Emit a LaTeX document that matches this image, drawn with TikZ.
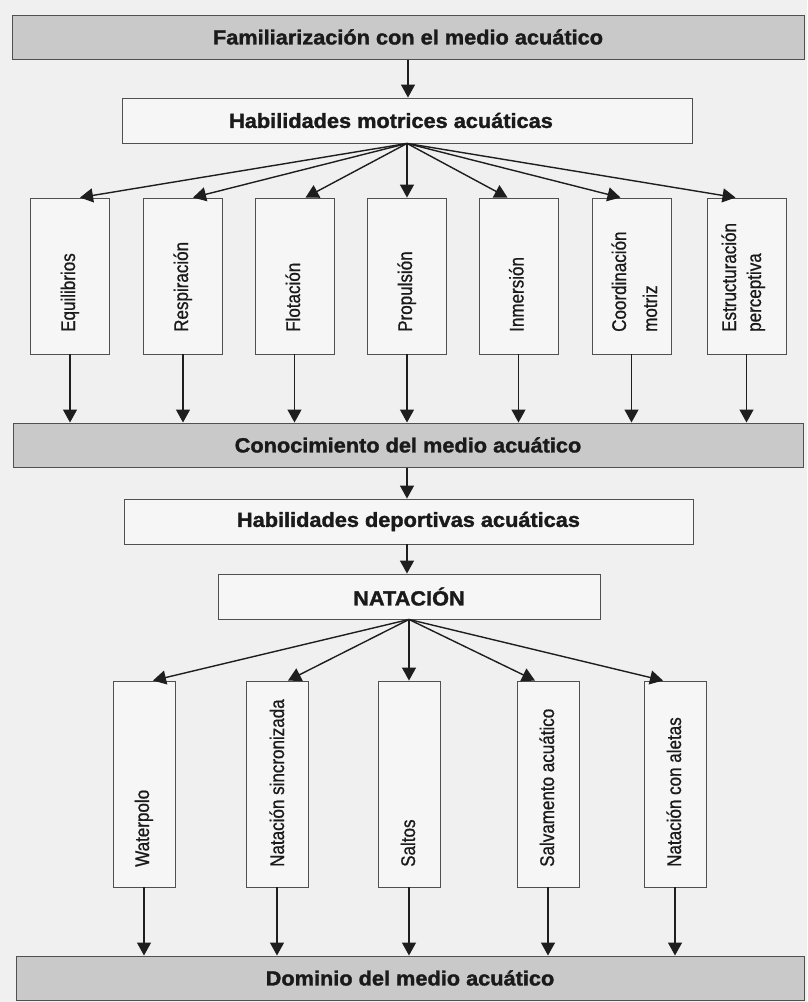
\documentclass[tikz,border=0pt]{standalone}
\usepackage{fontspec}
\setmainfont{Liberation Sans}
\newfontfamily\headfont[FakeStretch=1.06,FakeBold=1.5]{Liberation Sans}
\newfontfamily\labfont[FakeStretch=0.86,FakeBold=0.8]{Liberation Sans}
\usetikzlibrary{arrows.meta}
\definecolor{bgc}{HTML}{F0F0F0}
\definecolor{boxc}{HTML}{F6F6F6}
\definecolor{barc}{HTML}{C9C9C9}
\definecolor{bordc}{HTML}{505050}
\definecolor{arrc}{HTML}{1E1E1E}
\definecolor{txtc}{HTML}{1A1A1A}
\tikzset{
  bar/.style={draw=bordc, fill=barc, line width=1pt, minimum height=44pt, inner sep=0pt,
    text=txtc, font=\headfont\bfseries\fontsize{20.5}{24}\selectfont},
  hbox/.style={draw=bordc, fill=boxc, line width=0.9pt, minimum height=45pt, inner sep=0pt,
    text=txtc, font=\headfont\bfseries\fontsize{20.5}{24}\selectfont},
  vbox/.style={draw=bordc, fill=boxc, line width=0.9pt, inner sep=0pt},
  vboxA/.style={vbox, minimum width=79pt, minimum height=156pt},
  vboxB/.style={vbox, minimum width=62pt, minimum height=206pt},
  vlab/.style={rotate=90, anchor=base west, inner sep=0pt, text=txtc,
    font=\labfont\fontsize{19.8}{22}\selectfont},
  arr/.style={draw=arrc, line width=1.4pt, -{Triangle[length=13pt,width=14pt]}},
}
\begin{document}
\begin{tikzpicture}[x=1pt,y=-1pt]
\fill[bgc] (0,0) rectangle (807,1002);
\useasboundingbox (0,0) rectangle (807,1002);

% bars and horizontal boxes
\node[bar, minimum width=792pt] (fam) at (408,37) {Familiarización con el medio acuático};
\node[hbox, minimum width=570pt] (hm) at (407,120.5) {\hspace*{-32pt}Habilidades motrices acuáticas};
\node[bar, minimum width=790pt] (con) at (408,445) {Conocimiento del medio acuático};
\node[hbox, minimum width=569pt] (hd) at (408.5,521.5) {Habilidades deportivas acuáticas};
\node[hbox, minimum width=382pt] (nat) at (409,596.5) {NATACIÓN};
\node[bar, minimum width=788pt] (dom) at (410,978) {Dominio del medio acuático};

% seven vertical boxes
\node[vboxA] (eq) at (70,276) {};
\node[vboxA] (re) at (183,276) {};
\node[vboxA] (fl) at (294.5,276) {};
\node[vboxA] (pr) at (407,276) {};
\node[vboxA] (in) at (518.5,276) {};
\node[vboxA] (co) at (631.5,276) {};
\node[vboxA] (es) at (746.5,276) {};

\node[vlab] (teq) at (75,332) {Equilibrios};
\node[vlab] (tre) at (188,332) {Respiración};
\node[vlab] (tfl) at (300,332) {Flotación};
\node[vlab] (tpr) at (412,332) {Propulsión};
\node[vlab] (tin) at (523.5,332) {Inmersión};
\node[vlab] (tco1) at (626,332) {Coordinación};
\node[vlab] (tco2) at (657,332) {motriz};
\node[vlab] (tes1) at (736,332) {Estructuración};
\node[vlab] (tes2) at (761,332) {perceptiva};

% five vertical boxes
\node[vboxB] (wp) at (144,784) {};
\node[vboxB] (ns) at (277,784) {};
\node[vboxB] (sa) at (409,784) {};
\node[vboxB] (sv) at (548,784) {};
\node[vboxB] (na) at (675,784) {};

\node[vlab] (twp) at (149,867) {Waterpolo};
\node[vlab] (tns) at (284,867) {Natación sincronizada};
\node[vlab] (tsa) at (415,867) {Saltos};
\node[vlab] (tsv) at (554,867) {Salvamento acuático};
\node[vlab] (tna) at (681,867) {Natación con aletas};

% connectors
\draw[arr] (fam.south) -- (hm.north -| fam.south);
\draw[arr] (hm.south) -- ([xshift=10pt]eq.north);
\draw[arr] (hm.south) -- ([xshift=10pt]re.north);
\draw[arr] (hm.south) -- ([xshift=11pt]fl.north);
\draw[arr] (hm.south) -- (pr.north);
\draw[arr] (hm.south) -- ([xshift=-11pt]in.north);
\draw[arr] (hm.south) -- ([xshift=-11pt]co.north);
\draw[arr] (hm.south) -- ([xshift=-11pt]es.north);

\foreach \b in {eq,re,fl,pr,in,co,es}
  \draw[arr] (\b.south) -- (\b.south |- con.north);

\draw[arr] (con.south -| hm.south) -- (hd.north -| hm.south);
\draw[arr] (hd.south -| hm.south) -- (nat.north -| hm.south);

\draw[arr] (nat.south) -- ([xshift=9pt]wp.north);
\draw[arr] (nat.south) -- ([xshift=11pt]ns.north);
\draw[arr] (nat.south) -- (sa.north);
\draw[arr] (nat.south) -- ([xshift=-13pt]sv.north);
\draw[arr] (nat.south) -- ([xshift=-12pt]na.north);

\foreach \b in {wp,ns,sa,sv,na}
  \draw[arr] (\b.south) -- (\b.south |- dom.north);
\end{tikzpicture}
\end{document}
